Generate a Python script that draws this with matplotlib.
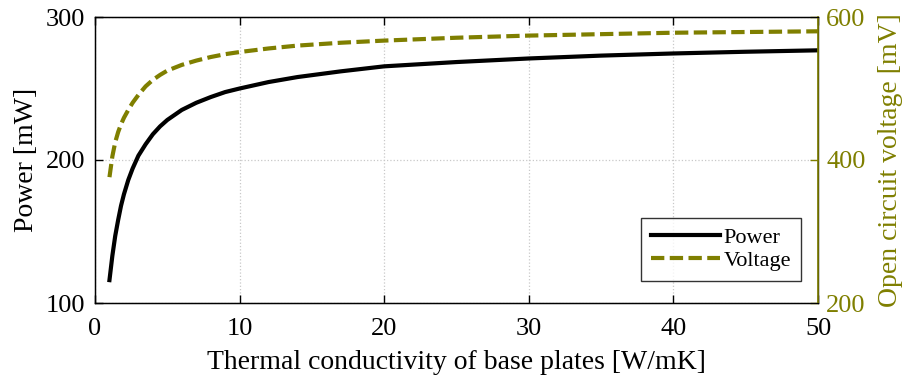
import matplotlib.pyplot as plt
import numpy as np

plt.rcParams['font.family'] = ['Liberation Serif', 'DejaVu Serif']

# Thermal conductivity of base plates [W/mK]
conductivity = [1, 1.2, 1.4, 1.6, 1.8, 2, 2.3, 2.6, 3, 3.5, 4, 4.5, 5, 6, 7, 8,
                9, 10, 12, 14, 17, 20, 25, 30, 35, 40, 45, 50]
# Power [mW]
power = [116, 133, 147, 158, 168, 176, 186, 194, 203, 211, 218, 223.5, 228,
         235, 240, 244, 247.5, 250, 254.5, 258, 262, 265.5, 268.5, 271, 273,
         274.5, 275.7, 276.7]
# Open circuit voltage [mV]
voltage = [376, 405, 425, 439, 450, 459, 470, 480, 491, 503, 512, 519, 525,
           533, 539, 544, 548, 551, 556, 560, 564, 567, 571, 574, 576, 578,
           579, 580]

olive = '#7f7f00'

fig = plt.figure(figsize=(9.07, 3.77), dpi=100)
ax = fig.add_axes([95 / 907, 1 - 303 / 377, (818 - 95) / 907, (303 - 17) / 377])
ax2 = ax.twinx()

l1, = ax.plot(conductivity, power, color='black', linewidth=3, label='Power')
l2, = ax2.plot(conductivity, voltage, color=olive, linewidth=3,
               linestyle=(0, (3.2, 1.3)), label='Voltage')

ax.set_xlim(0, 50)
ax.set_ylim(100, 300)
ax2.set_ylim(200, 600)
ax.set_xticks(np.arange(0, 51, 10))
ax.set_yticks([100, 200, 300])
ax2.set_yticks([200, 400, 600])

ax.grid(True, linestyle=':', color='#c8c8c8', linewidth=0.9)
ax.tick_params(direction='in', labelsize=19, top=True, length=6, width=1)
ax2.tick_params(direction='in', labelsize=19, colors=olive, length=6, width=1,
                pad=6)
ax.tick_params(axis='x', pad=11)
ax.tick_params(axis='y', pad=7)

for s in ax.spines.values():
    s.set_linewidth(1)
ax2.spines['right'].set_color(olive)
ax2.spines['right'].set_linewidth(1.2)

ax.set_xlabel('Thermal conductivity of base plates [W/mK]', fontsize=20, labelpad=7)
ax.set_ylabel('Power [mW]', fontsize=20, labelpad=5)
ax2.set_ylabel('Open circuit voltage [mV]', fontsize=20, color=olive, labelpad=9)

leg = ax2.legend(handles=[l1, l2], loc='lower right', bbox_to_anchor=(0.9765, 0.077),
                 fontsize=16, frameon=True, fancybox=False, edgecolor='black',
                 handlelength=3.1, handletextpad=0.15, borderpad=0.45,
                 labelspacing=0.1, borderaxespad=0)
leg.get_frame().set_linewidth(1)

fig.savefig('out.png', dpi=100)
